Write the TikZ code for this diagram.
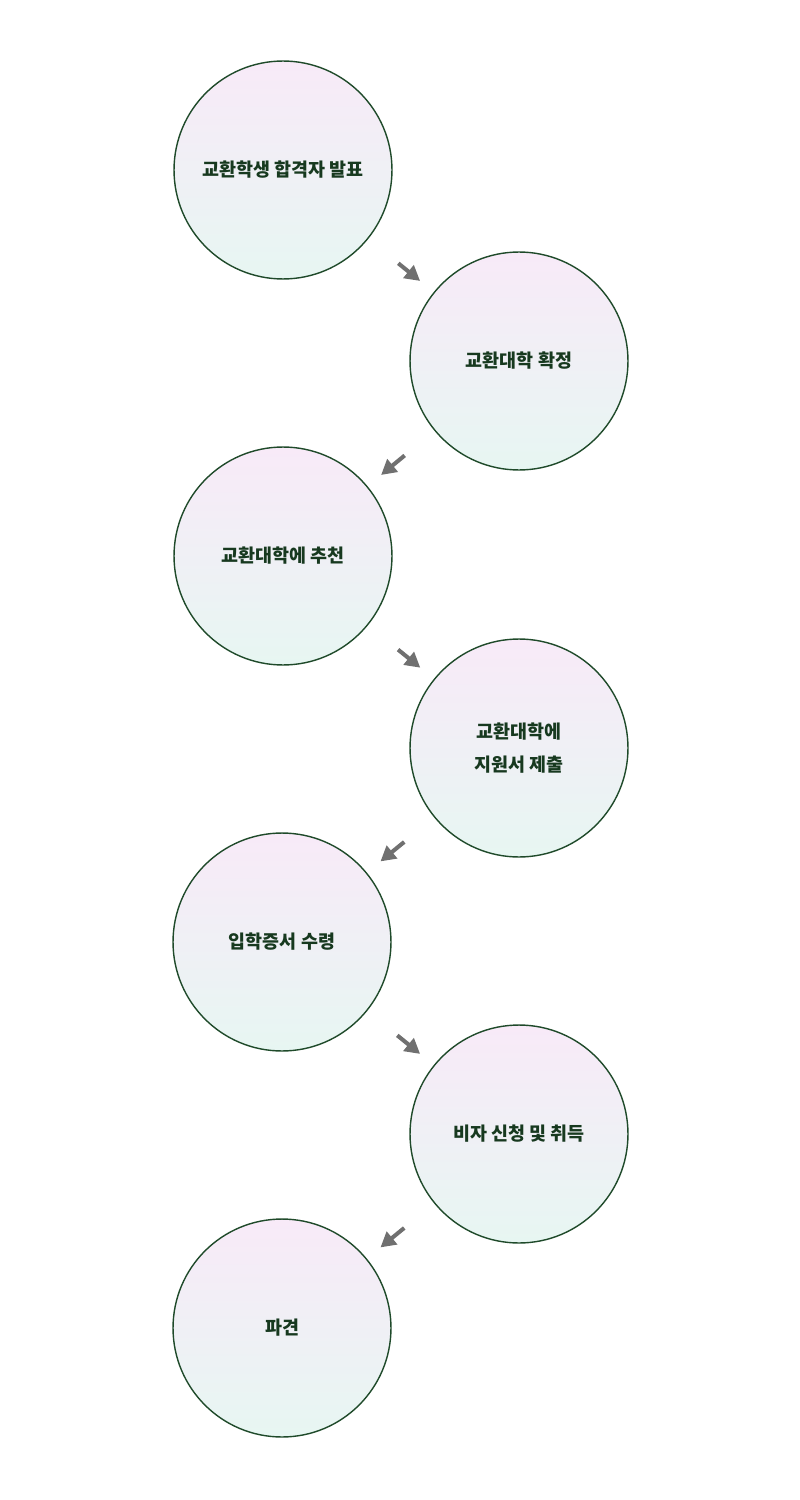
\documentclass[tikz,border=0pt]{standalone}
\usepackage{fontspec}
\setmainfont{Noto Sans CJK KR}
\usetikzlibrary{arrows.meta, positioning}
\definecolor{stagegreen}{HTML}{1F4A2A}
\definecolor{stagetext}{HTML}{17391F}
\definecolor{stagepink}{HTML}{F8EAF8}
\definecolor{stagemint}{HTML}{E7F6F2}
\definecolor{arrowgray}{HTML}{707070}

\begin{document}
\begin{tikzpicture}[x=0.02cm, y=-0.02cm, >=Stealth,
    stage/.style={circle, draw=stagegreen, line width=0.8pt, minimum size=4.36cm, inner sep=0pt,
        top color=stagepink, bottom color=stagemint, text=stagetext,
        font=\fontsize{10.5}{19}\selectfont\bfseries, align=center},
    flow/.style={line width=2.3pt, arrowgray, shorten <=22pt, shorten >=10pt,
        -{Triangle[length=0.3cm, width=0.32cm]}}]

    % fix the page to the reference size:
    \useasboundingbox (0,0) rectangle (800,1500);

    % the stages, zigzag left / right:
    \node[stage] (announce) at (283,170) {교환학생 합격자 발표};
    \node[stage] (confirm) at (519,361) {교환대학 확정};
    \node[stage] (recommend) at (283,556) {교환대학에 추천};
    \node[stage] (apply) at (519,748) {교환대학에\\지원서 제출};
    \node[stage] (admission) at (282,942) {입학증서 수령};
    \node[stage] (visa) at (519,1134) {비자 신청 및 취득};
    \node[stage] (dispatch) at (282,1328) {파견};

    % gray arrows between the stages:
    \draw[flow] (announce) -- (confirm);
    \draw[flow] (confirm) -- (recommend);
    \draw[flow] (recommend) -- (apply);
    \draw[flow] (apply) -- (admission);
    \draw[flow] (admission) -- (visa);
    \draw[flow] (visa) -- (dispatch);

\end{tikzpicture}
\end{document}
